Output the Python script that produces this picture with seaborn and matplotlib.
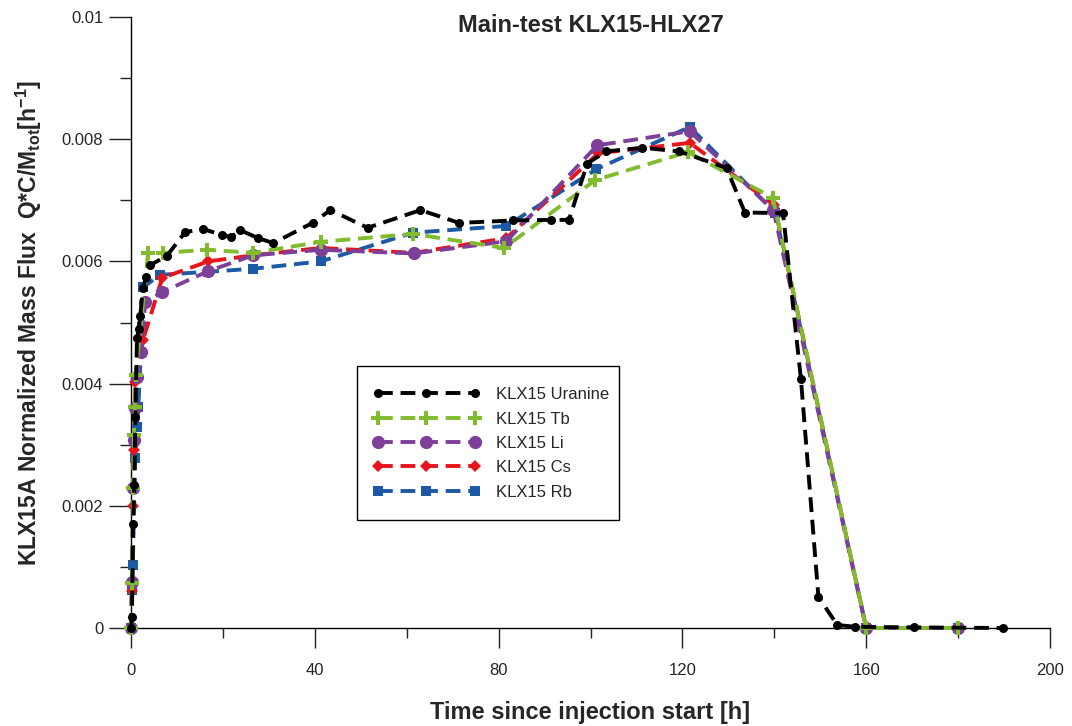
import numpy as np
import pandas as pd
import matplotlib
matplotlib.use("Agg")
import matplotlib.pyplot as plt
import matplotlib.patches as mpatches
import seaborn as sns
from matplotlib.ticker import MultipleLocator

sns.set_style("white")
plt.rcParams['font.family'] = ['Liberation Sans', 'DejaVu Sans']
plt.rcParams['mathtext.fontset'] = 'custom'
plt.rcParams['mathtext.rm'] = 'Liberation Sans'
plt.rcParams['mathtext.bf'] = 'Liberation Sans:bold'

# ---------------- data ----------------
uranine_x = [0, 0.2, 0.45, 0.7, 0.95, 1.3, 1.7, 2.0, 2.6, 3.3, 4.2, 7.8, 11.8, 15.7, 19.9, 21.8,
             23.8, 27.7, 31.0, 39.5, 43.4, 51.5, 63.0, 71.4, 83.2, 91.4, 95.3, 99.3, 103.3,
             111.3, 119.3, 129.6, 133.6, 141.9, 145.8, 149.6, 153.7, 157.6, 170.3, 189.8]
uranine_y = [0, 0.00018, 0.0017, 0.00234, 0.00345, 0.00475, 0.0049, 0.0051, 0.00556, 0.00575,
             0.00594, 0.00609, 0.00648, 0.00653, 0.00643, 0.0064, 0.00651, 0.00638, 0.0063,
             0.00663, 0.00684, 0.00655, 0.00684, 0.00663, 0.00667, 0.00668, 0.00668, 0.0076,
             0.0078, 0.00786, 0.0078, 0.00753, 0.0068, 0.00679, 0.00407, 0.00051, 0.00005,
             0.00002, 0.00001, 0.0]

tb_x = [0, 0.2, 0.45, 0.65, 0.9, 1.0, 3.7, 7.0, 16.6, 26.6, 41.3, 61.4, 81.2, 101.0, 121.2,
        139.7, 160.0, 180.0]
tb_y = [0, 0.00074, 0.00229, 0.00316, 0.00362, 0.00414, 0.00613, 0.00614, 0.00619, 0.00614,
        0.00632, 0.00645, 0.00622, 0.00733, 0.00779, 0.00704, 0.0, 0.0]

li_x = [0, 0.2, 0.45, 0.65, 0.9, 1.3, 2.2, 3.1, 6.8, 16.8, 26.6, 41.3, 61.6, 81.7, 101.5,
        121.6, 139.8, 160.0, 180.0]
li_y = [0, 0.00075, 0.00229, 0.00308, 0.0036, 0.0041, 0.00452, 0.00533, 0.0055, 0.00584,
        0.0061, 0.00619, 0.00613, 0.00633, 0.0079, 0.00813, 0.00684, 0.0, 0.0]

cs_x = [0, 0.2, 0.45, 0.6, 0.9, 2.6, 6.8, 16.8, 26.6, 41.3, 61.6, 81.7, 101.7, 121.6, 140.0,
        160.0, 180.0]
cs_y = [0, 0.0006, 0.002, 0.00291, 0.00403, 0.00471, 0.00573, 0.006, 0.0061, 0.00622,
        0.00614, 0.00638, 0.00777, 0.00794, 0.00692, 0.0, 0.0]

rb_x = [0, 0.2, 0.4, 0.9, 1.3, 1.6, 2.4, 2.7, 6.3, 16.8, 26.6, 41.3, 61.4, 81.7, 101.3,
        121.6, 140.2, 160.0, 180.0]
rb_y = [0, 0.00062, 0.00103, 0.00278, 0.00329, 0.00362, 0.00493, 0.00558, 0.00578, 0.00583,
        0.00588, 0.006, 0.00647, 0.00658, 0.00751, 0.0082, 0.0068, 0.0, 0.0]

labels = ["KLX15 Uranine", "KLX15 Tb", "KLX15 Li", "KLX15 Cs", "KLX15 Rb"]
y_ticks = [0, 0.002, 0.004, 0.006, 0.008, 0.01]
y_ticklabels = ["0", "0.002", "0.004", "0.006", "0.008", "0.01"]
x_ticks = [0, 40, 80, 120, 160, 200]

# ---------------- plot ----------------
fig = plt.figure(figsize=(10.72, 7.26), dpi=100)
ax = fig.add_axes([131/1072, 1 - 628/726, (1050 - 131)/1072, (628 - 17)/726])

dash = (0, (3.8, 2.0))
styles = {
    "KLX15 Rb": dict(color="#1c5aa6", marker="s", markersize=7.5, lw=2.8, z=3),
    "KLX15 Cs": dict(color="#e8141c", marker="D", markersize=6.5, lw=2.8, z=4),
    "KLX15 Li": dict(color="#7d3f98", marker="o", markersize=9.5, lw=2.8, z=5),
    "KLX15 Tb": dict(color="#80bc2e", marker="P", markersize=10, lw=2.8, z=6),
    "KLX15 Uranine": dict(color="#000000", marker="o", markersize=6.5, lw=2.8, z=7),
}
series = {
    "KLX15 Uranine": (uranine_x, uranine_y),
    "KLX15 Tb": (tb_x, tb_y),
    "KLX15 Li": (li_x, li_y),
    "KLX15 Cs": (cs_x, cs_y),
    "KLX15 Rb": (rb_x, rb_y),
}
for name in ["KLX15 Rb", "KLX15 Cs", "KLX15 Li", "KLX15 Tb", "KLX15 Uranine"]:
    xs, ys = series[name]
    st = styles[name]
    df = pd.DataFrame({"x": xs, "y": ys})
    sns.lineplot(data=df, x="x", y="y", ax=ax, sort=False, estimator=None,
                 color=st["color"], marker=st["marker"], markersize=st["markersize"],
                 markeredgewidth=0, linewidth=st["lw"],
                 linestyle=dash, label=name, zorder=st["z"], clip_on=False)

ax.set_xlim(0, 200)
ax.set_ylim(0, 0.01)
ax.set_xticks(x_ticks)
ax.xaxis.set_minor_locator(MultipleLocator(20))
ax.set_yticks(y_ticks)
ax.set_yticklabels(y_ticklabels)
ax.yaxis.set_minor_locator(MultipleLocator(0.001))

for s in ["top", "right"]:
    ax.spines[s].set_visible(False)
for s in ["left", "bottom"]:
    ax.spines[s].set_color("black")
    ax.spines[s].set_linewidth(1.0)

ax.tick_params(axis="y", which="major", direction="out", length=16, width=1, pad=4,
               labelsize=12, color="#222222", left=True)
ax.tick_params(axis="y", which="minor", direction="out", length=8, width=1, color="#222222", left=True)
ax.tick_params(axis="x", which="major", direction="out", length=14.5, width=1, pad=11,
               labelsize=12, color="#222222", bottom=True)
ax.tick_params(axis="x", which="minor", direction="out", length=7.5, width=1, color="#222222", bottom=True)

ax.set_title("Main-test KLX15-HLX27", fontsize=17, fontweight="bold", pad=0, y=0.975)
ax.set_xlabel("Time since injection start [h]", fontsize=17, fontweight="bold", labelpad=16)
ax.set_ylabel(r"KLX15A Normalized Mass Flux  Q*C/M$_{\mathbf{tot}}$[h$^{\mathbf{-1}}$]",
              fontsize=16.5, fontweight="bold", labelpad=13)

# legend box (drawn separately to get the reference's uneven padding)
box = mpatches.Rectangle((0.2459, 0.1768), 0.531 - 0.2459, 0.4288 - 0.1768,
                         transform=ax.transAxes, facecolor="white", edgecolor="black",
                         linewidth=1.0, zorder=9)
ax.add_patch(box)

handles, labs = ax.get_legend_handles_labels()
order = [labs.index(l) for l in labels]
leg = ax.legend([handles[i] for i in order], [labs[i] for i in order],
                loc="upper left", bbox_to_anchor=(0.2633, 0.3941), numpoints=3,
                handlelength=6.4, handletextpad=1.0, fontsize=12, frameon=False,
                borderpad=0, labelspacing=0.56, borderaxespad=0)
leg.set_zorder(10)

fig.savefig("out.png", dpi=100)
